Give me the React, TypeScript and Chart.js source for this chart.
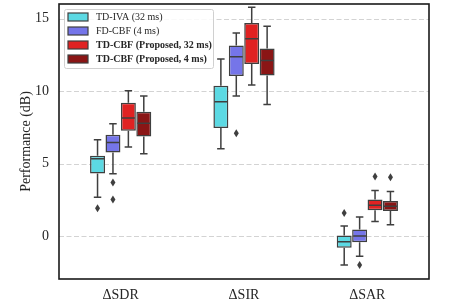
import { useEffect, useRef } from 'react';
import { Chart, registerables } from 'chart.js';
Chart.register(...registerables);

const categories = ['ΔSDR', 'ΔSIR', 'ΔSAR'];
const yTicks = [0, 5, 10, 15];
const seriesNames = ['TD-IVA (32 ms)', 'FD-CBF (4 ms)', 'TD-CBF (Proposed, 32 ms)', 'TD-CBF (Proposed, 4 ms)'];

const tdIvaQ1 = [4.32, 7.45, -0.79];
const tdIvaMed = [5.33, 9.26, -0.39];
const tdIvaQ3 = [5.54, 10.37, 0.04];
const tdIvaLow = [2.69, 6.03, -1.98];
const tdIvaHigh = [6.64, 12.21, 0.71];
const tdIvaOut = [[1.93], [], [1.59]];

const fdCbfQ1 = [5.77, 11.03, -0.41];
const fdCbfMed = [6.45, 12.37, 0.02];
const fdCbfQ3 = [6.99, 13.14, 0.46];
const fdCbfLow = [4.3, 9.66, -1.38];
const fdCbfHigh = [7.74, 14.0, 1.33];
const fdCbfOut = [[3.7, 2.53], [7.1], [-1.98]];

const tdCbf32Q1 = [7.26, 11.86, 1.79];
const tdCbf32Med = [8.14, 13.61, 2.14];
const tdCbf32Q3 = [9.19, 14.69, 2.52];
const tdCbf32Low = [6.14, 10.41, 1.01];
const tdCbf32High = [10.02, 15.77, 3.15];
const tdCbf32Out = [[], [], [4.11]];

const tdCbf4Q1 = [6.87, 11.08, 1.74];
const tdCbf4Med = [7.79, 12.11, 2.07];
const tdCbf4Q3 = [8.57, 12.94, 2.43];
const tdCbf4Low = [5.68, 9.08, 0.78];
const tdCbf4High = [9.66, 14.46, 3.08];
const tdCbf4Out = [[], [], [4.07]];

const colors = ['#5cd9e3', '#7575e9', '#e02222', '#8a1515'];
const boldLegend = [false, false, true, true];
const EDGE = '#3f3f3f';
const SERIF = "'Liberation Serif', 'Times New Roman', serif";

const stats = [
  { q1: tdIvaQ1, med: tdIvaMed, q3: tdIvaQ3, low: tdIvaLow, high: tdIvaHigh, out: tdIvaOut },
  { q1: fdCbfQ1, med: fdCbfMed, q3: fdCbfQ3, low: fdCbfLow, high: fdCbfHigh, out: fdCbfOut },
  { q1: tdCbf32Q1, med: tdCbf32Med, q3: tdCbf32Q3, low: tdCbf32Low, high: tdCbf32High, out: tdCbf32Out },
  { q1: tdCbf4Q1, med: tdCbf4Med, q3: tdCbf4Q3, low: tdCbf4Low, high: tdCbf4High, out: tdCbf4Out },
];

const boxPlugin = {
  id: 'boxExtras',
  beforeDatasetsDraw(chart: any) {
    const ctx = chart.ctx;
    const a = chart.chartArea;
    const y = chart.scales.y;
    ctx.save();
    ctx.strokeStyle = '#d3d3d3';
    ctx.lineWidth = 1;
    ctx.setLineDash([5, 2.5]);
    yTicks.forEach((v) => {
      const py = Math.round(y.getPixelForValue(v)) + 0.5;
      ctx.beginPath();
      ctx.moveTo(a.left, py);
      ctx.lineTo(a.right, py);
      ctx.stroke();
    });
    ctx.restore();
  },
  afterDatasetsDraw(chart: any) {
    const ctx = chart.ctx;
    const y = chart.scales.y;
    ctx.save();
    stats.forEach((s, d) => {
      const meta = chart.getDatasetMeta(d);
      meta.data.forEach((bar: any, i: number) => {
        const x = bar.x;
        const w = bar.width;
        const yq1 = y.getPixelForValue(s.q1[i]);
        const yq3 = y.getPixelForValue(s.q3[i]);
        const ylo = y.getPixelForValue(s.low[i]);
        const yhi = y.getPixelForValue(s.high[i]);
        const ymed = y.getPixelForValue(s.med[i]);
        ctx.strokeStyle = EDGE;
        ctx.lineWidth = 1.5;
        ctx.beginPath();
        ctx.moveTo(x, yq3); ctx.lineTo(x, yhi);
        ctx.moveTo(x, yq1); ctx.lineTo(x, ylo);
        ctx.moveTo(x - w / 4, yhi); ctx.lineTo(x + w / 4, yhi);
        ctx.moveTo(x - w / 4, ylo); ctx.lineTo(x + w / 4, ylo);
        ctx.moveTo(x - w / 2 + 1, ymed); ctx.lineTo(x + w / 2 - 1, ymed);
        ctx.stroke();
        ctx.fillStyle = EDGE;
        s.out[i].forEach((v: number) => {
          const py = y.getPixelForValue(v);
          ctx.beginPath();
          ctx.moveTo(x, py - 4);
          ctx.lineTo(x + 2.5, py);
          ctx.lineTo(x, py + 4);
          ctx.lineTo(x - 2.5, py);
          ctx.closePath();
          ctx.fill();
        });
      });
    });
    ctx.restore();
  },
  afterDraw(chart: any) {
    const ctx = chart.ctx;
    const a = chart.chartArea;
    ctx.save();
    ctx.strokeStyle = '#1a1a1a';
    ctx.lineWidth = 1.6;
    ctx.strokeRect(a.left, a.top, a.right - a.left, a.bottom - a.top);
    // legend
    const lx = a.left + 5, ly = a.top + 5, lw = 149, lh = 59;
    ctx.fillStyle = 'rgba(255,255,255,0.85)';
    ctx.strokeStyle = '#d0d0d0';
    ctx.lineWidth = 1;
    ctx.beginPath();
    if (ctx.roundRect) ctx.roundRect(lx + 0.5, ly + 0.5, lw, lh, 2); else ctx.rect(lx + 0.5, ly + 0.5, lw, lh);
    ctx.fill();
    ctx.stroke();
    seriesNames.forEach((name, k) => {
      const cy = ly + 8 + k * 14;
      ctx.fillStyle = colors[k];
      ctx.fillRect(lx + 4, cy - 4, 20, 8);
      ctx.strokeStyle = EDGE;
      ctx.lineWidth = 1.2;
      ctx.strokeRect(lx + 4, cy - 4, 20, 8);
      ctx.fillStyle = '#262626';
      ctx.font = `${boldLegend[k] ? 'bold ' : ''}10px ${SERIF}`;
      ctx.textBaseline = 'middle';
      ctx.textAlign = 'left';
      ctx.fillText(name, lx + 32, cy + 0.5);
    });
    ctx.restore();
  },
};

export default function App() {
  const ref = useRef<HTMLCanvasElement>(null);
  useEffect(() => {
    document.body.style.margin = '0';
    const chart = new Chart(ref.current!, {
      type: 'bar',
      data: {
        labels: categories,
        datasets: stats.map((s, d) => ({
          label: seriesNames[d],
          data: categories.map((_, i) => [s.q1[i], s.q3[i]]),
          backgroundColor: colors[d],
          borderColor: EDGE,
          borderWidth: 1.5,
          borderSkipped: false,
          categoryPercentage: 0.5,
          barPercentage: 0.97,
        })) as any,
      },
      options: {
        animation: false,
        responsive: false,
        events: [],
        layout: { padding: { left: 0, right: 47, top: 4, bottom: 0 } },
        plugins: { legend: { display: false }, tooltip: { enabled: false } },
        scales: {
          x: {
            grid: { display: false, drawTicks: false },
            border: { display: false },
            ticks: { color: '#262626', font: { family: SERIF, size: 14 }, padding: 8 },
            afterFit(scale: any) { scale.height = 23; scale.paddingLeft = 0; scale.paddingRight = 0; },
          },
          y: {
            min: -2.95,
            max: 16.0,
            afterBuildTicks(scale: any) { scale.ticks = yTicks.map((v) => ({ value: v })); },
            grid: { display: false, drawTicks: false },
            border: { display: false },
            ticks: { color: '#262626', font: { family: SERIF, size: 14 }, padding: 10 },
            title: { display: true, text: 'Performance (dB)', color: '#262626', font: { family: SERIF, size: 14 }, padding: { top: 18, bottom: 0 } },
            afterFit(scale: any) { scale.width = 59; scale.paddingTop = 0; scale.paddingBottom = 0; },
          },
        },
      },
      plugins: [boxPlugin],
    });
    return () => chart.destroy();
  }, []);
  return (
    <div style={{ width: 476, height: 302 }}>
      <canvas ref={ref} width={476} height={302} style={{ width: 476, height: 302, display: 'block' }} />
    </div>
  );
}
